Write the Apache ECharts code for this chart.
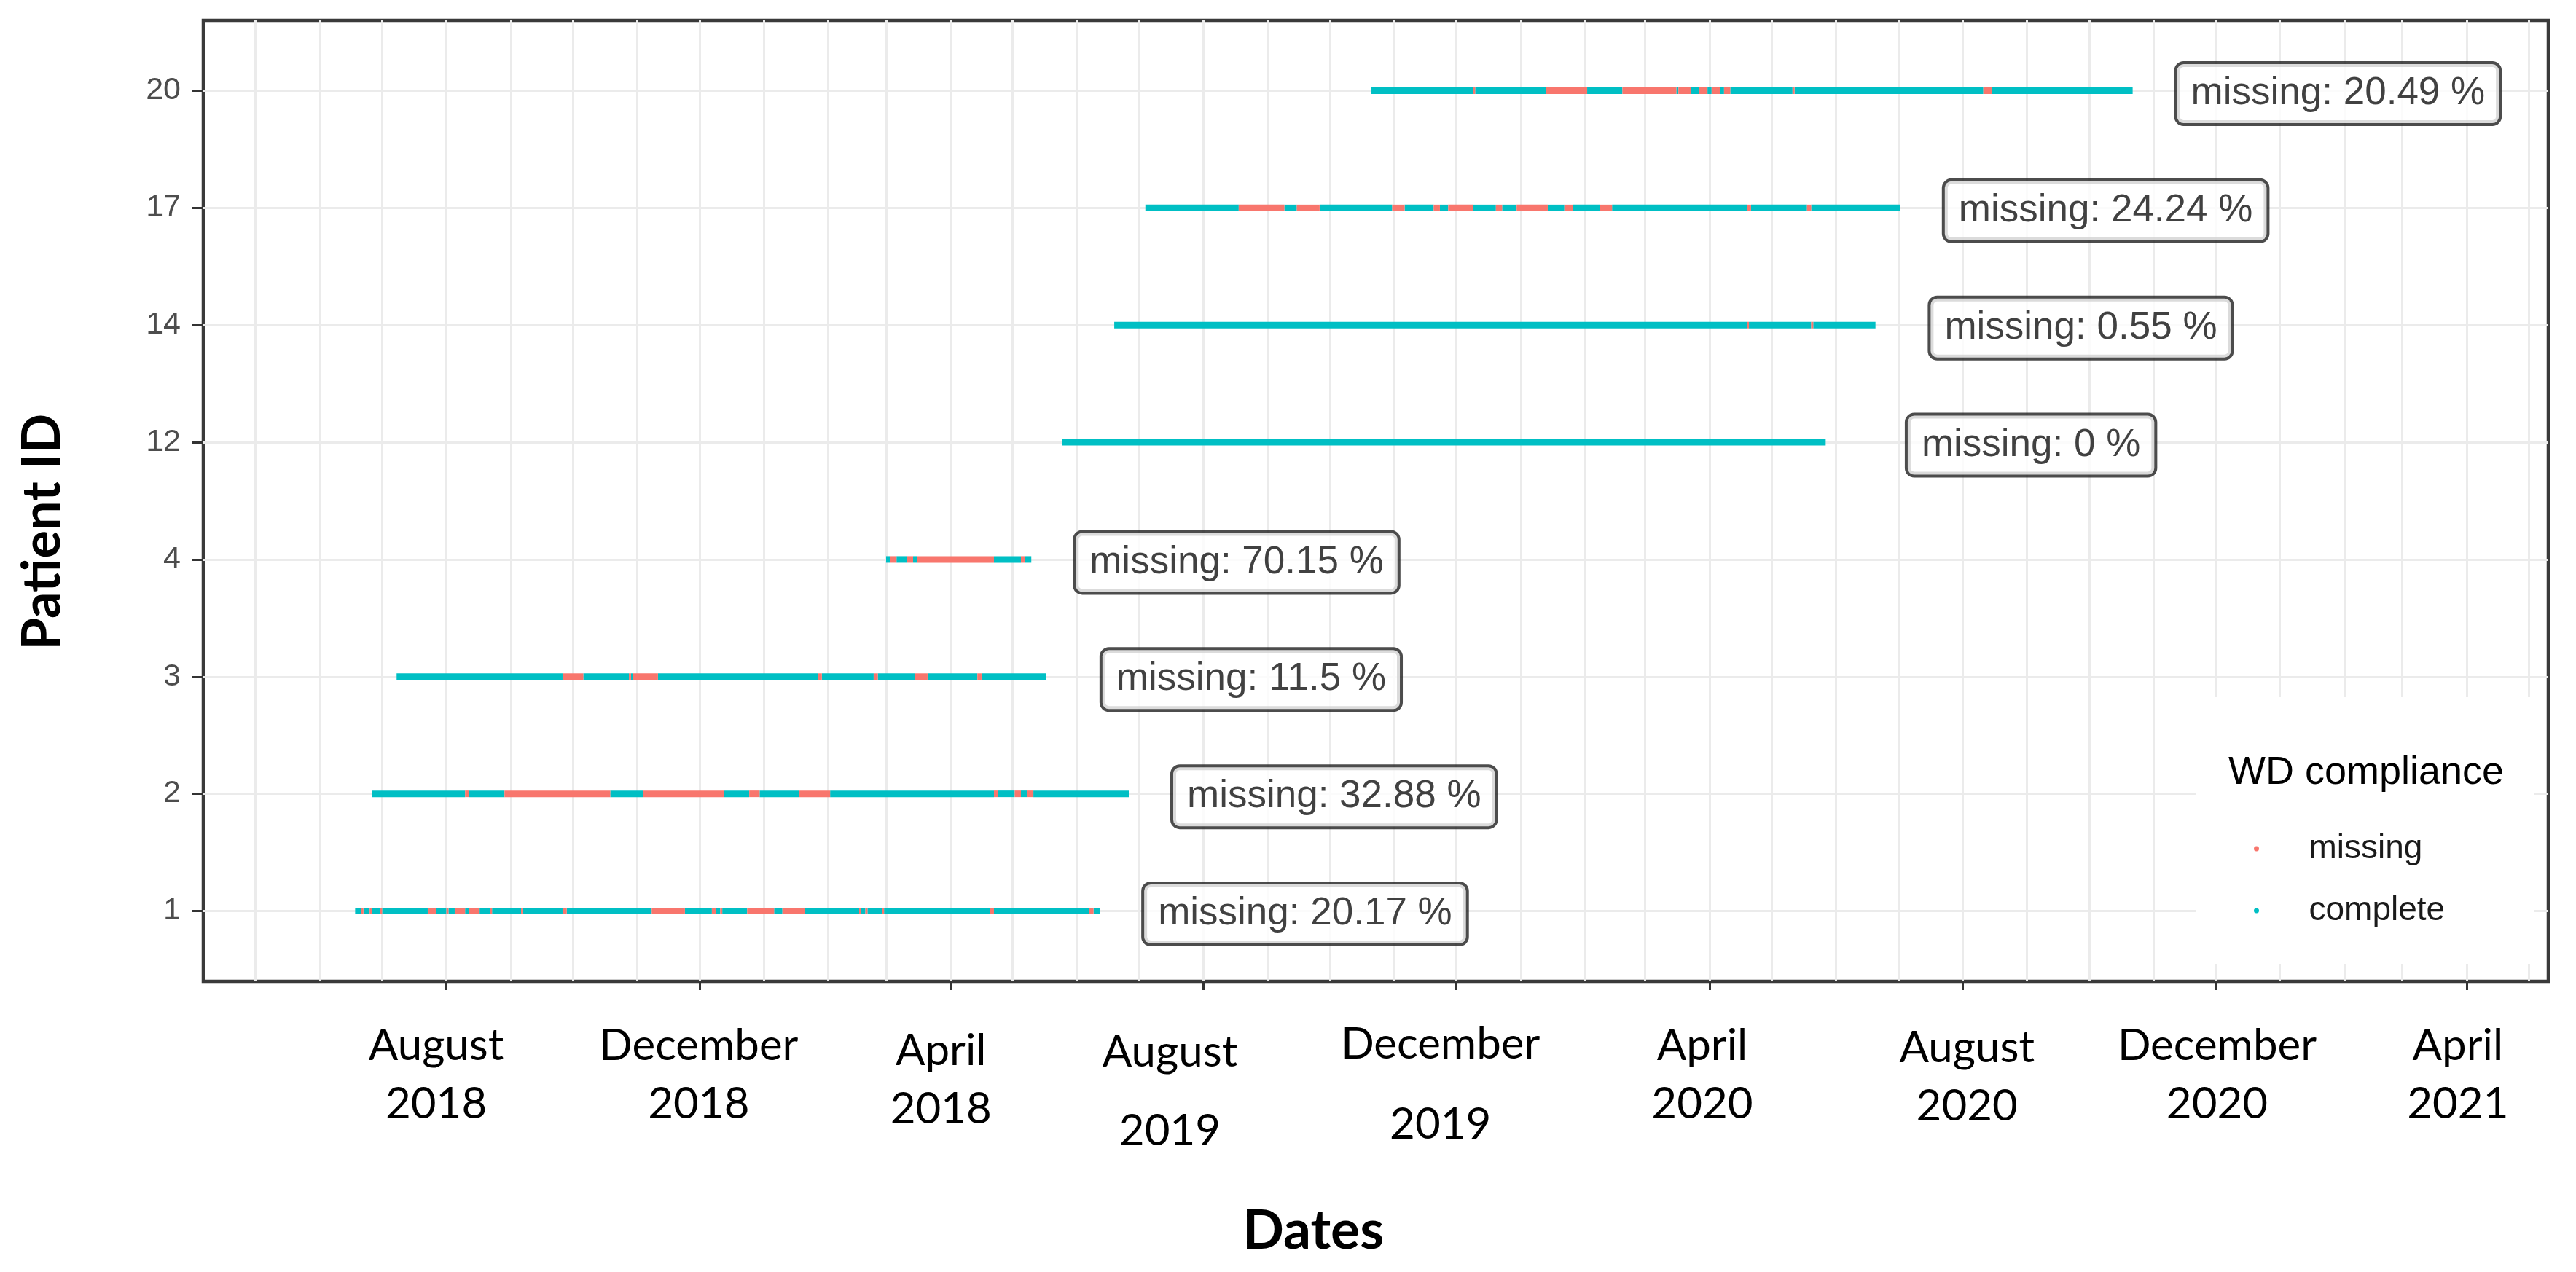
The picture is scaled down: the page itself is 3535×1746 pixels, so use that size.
<!DOCTYPE html>
<html><head><meta charset="utf-8">
<script src="https://cdn.jsdelivr.net/npm/echarts@6/dist/echarts.min.js"></script>
<style>html,body{margin:0;padding:0;background:#fff}#c{width:3535px;height:1746px}</style>
</head><body><div id="c"></div>
<script>
// ---------------- data ----------------
const patientIds = ['1', '2', '3', '4', '12', '14', '17', '20'];
const spanStart = ['2018-06-18', '2018-06-26', '2018-07-08', '2019-03-01', '2019-05-25', '2019-06-19', '2019-07-04', '2019-10-21'];
const spanEnd   = ['2019-06-12', '2019-06-26', '2019-05-17', '2019-05-10', '2020-05-27', '2020-06-20', '2020-07-02', '2020-10-22'];
const missingPct = [20.17, 32.88, 11.5, 70.15, 0, 0.55, 24.24, 20.49];
const missingP1 = [['2018-06-21','2018-06-22'],['2018-06-25','2018-06-26'],['2018-06-30','2018-07-01'],['2018-07-23','2018-07-27'],['2018-08-01','2018-08-02'],['2018-08-05','2018-08-10'],['2018-08-12','2018-08-17'],['2018-08-22','2018-08-23'],['2018-09-06','2018-09-07'],['2018-09-26','2018-09-28'],['2018-11-08','2018-11-24'],['2018-12-07','2018-12-09'],['2018-12-11','2018-12-12'],['2018-12-24','2019-01-06'],['2019-01-10','2019-01-21'],['2019-02-16','2019-02-17'],['2019-02-19','2019-02-20'],['2019-02-27','2019-02-28'],['2019-04-20','2019-04-22'],['2019-06-07','2019-06-09']];
const missingP2 = [['2018-08-10','2018-08-12'],['2018-08-29','2018-10-19'],['2018-11-04','2018-12-13'],['2018-12-25','2018-12-30'],['2019-01-18','2019-02-02'],['2019-04-22','2019-04-24'],['2019-05-02','2019-05-05'],['2019-05-08','2019-05-11']];
const missingP3 = [['2018-09-26','2018-10-06'],['2018-10-28','2018-10-29'],['2018-10-30','2018-11-11'],['2019-01-27','2019-01-29'],['2019-02-23','2019-02-25'],['2019-03-15','2019-03-21'],['2019-04-14','2019-04-16']];
const missingP4 = [['2019-03-03','2019-03-06'],['2019-03-11','2019-03-14'],['2019-03-16','2019-04-22'],['2019-05-05','2019-05-07']];
const missingP12 = [];
const missingP14 = [['2020-04-19','2020-04-20'],['2020-05-20','2020-05-21']];
const missingP17 = [['2019-08-18','2019-09-09'],['2019-09-15','2019-09-26'],['2019-10-31','2019-11-06'],['2019-11-20','2019-11-23'],['2019-11-27','2019-12-09'],['2019-12-20','2019-12-23'],['2019-12-30','2020-01-14'],['2020-01-22','2020-01-26'],['2020-02-08','2020-02-14'],['2020-04-19','2020-04-21'],['2020-05-18','2020-05-20']];
const missingP20 = [['2019-12-09','2019-12-10'],['2020-01-13','2020-02-02'],['2020-02-19','2020-03-16'],['2020-03-17','2020-03-23'],['2020-03-27','2020-03-31'],['2020-04-02','2020-04-06'],['2020-04-08','2020-04-11'],['2020-05-11','2020-05-12'],['2020-08-11','2020-08-15']];
const missingSpans = [missingP1, missingP2, missingP3, missingP4, missingP12, missingP14, missingP17, missingP20];
const tickDates = ['2018-08-01','2018-12-01','2019-04-01','2019-08-01','2019-12-01','2020-04-01','2020-08-01','2020-12-01','2021-04-01'];
const tickLabels = ['August\n2018','December\n2018','April\n2018','August\n2019','December\n2019','April\n2020','August\n2020','December\n2020','April\n2021'];

// ---------------- helpers / layout ----------------
const DAY = 86400000;
function t(s) { const p = s.split('-').map(Number); return new Date(p[0], p[1] - 1, p[2]).getTime(); }
const xMin = t('2018-04-05') + 0.8 * DAY;
const xMax = t('2021-05-10') + 0.4 * DAY;
const labelOffsetDays = 99;
const monthLines = [];
for (let y = 2018, m = 4; ; m++) {
  const d = new Date(y, m, 1).getTime();
  if (d > xMax) break;
  monthLines.push(d);
}
const tickTimes = tickDates.map(t);
// per-label nudges (dx in px, line heights) reproducing the hand-placed labels
const labelNudge = [
  {dx: -14, m: 80, y: 80}, {dx: -1, m: 80, y: 80}, {dx: -13, m: 94, y: 66},
  {dx: -46, m: 98, y: 118}, {dx: -22, m: 76, y: 144}, {dx: -10, m: 80, y: 80},
  {dx: 6, m: 86, y: 74}, {dx: 2, m: 80, y: 80}, {dx: -12, m: 80, y: 80}
];
const rich = {};
labelNudge.forEach((n, i) => {
  const pad = n.dx < 0 ? [0, -2 * n.dx, 0, 0] : [0, 0, 0, 2 * n.dx];
  rich['m' + i] = {fontFamily: 'Lato', fontSize: 60, color: '#000', lineHeight: n.m, padding: pad};
  rich['y' + i] = {fontFamily: 'Lato', fontSize: 60, color: '#000', lineHeight: n.y, padding: pad};
});

const missingData = [], completeData = [], labelData = [];
patientIds.forEach((id, i) => {
  const s = t(spanStart[i]), e = t(spanEnd[i]);
  const miss = missingSpans[i].map(p => [t(p[0]), t(p[1])]).sort((a, b) => a[0] - b[0]);
  let cur = s;
  miss.forEach(p => {
    if (p[0] > cur) completeData.push([i, cur, p[0]]);
    missingData.push([i, p[0], p[1]]);
    cur = Math.max(cur, p[1]);
  });
  if (e > cur) completeData.push([i, cur, e]);
  labelData.push([e + labelOffsetDays * DAY, i, missingPct[i]]);
});

function renderSeg(params, api) {
  const yv = api.value(0);
  const a = api.coord([api.value(1), yv]);
  const b = api.coord([api.value(2), yv]);
  const h = 9;
  return {
    type: 'rect',
    shape: {x: a[0], y: a[1] - h / 2, width: Math.max(b[0] - a[0], 2), height: h},
    style: {fill: api.visual('color')}
  };
}

const chart = echarts.init(document.getElementById('c'), null, {renderer: 'canvas'});
chart.setOption({
  animation: false,
  backgroundColor: '#ffffff',
  grid: {left: 279, right: 38, top: 28, bottom: 399, containLabel: false, outerBoundsMode: 'none',
         show: true, borderColor: '#3a3a3a', borderWidth: 4.5, backgroundColor: 'transparent'},
  xAxis: [
    {type: 'value', min: xMin, max: xMax, position: 'bottom', scale: true,
     axisLine: {show: false}, axisLabel: {show: false},
     axisTick: {show: false, customValues: monthLines},
     splitLine: {show: true, lineStyle: {color: '#ebebeb', width: 3}}},
    {type: 'value', min: xMin, max: xMax, position: 'bottom', scale: true,
     axisLine: {show: false},
     axisTick: {show: true, customValues: tickTimes, length: 12, lineStyle: {color: '#333', width: 3}},
     splitLine: {show: false},
     axisLabel: {show: true, customValues: tickTimes, margin: 49, hideOverlap: false,
       formatter: function (v) {
         let i = 0, best = Infinity;
         tickTimes.forEach((tt, k) => { if (Math.abs(tt - v) < best) { best = Math.abs(tt - v); i = k; } });
         const parts = tickLabels[i].split('\n');
         return '{m' + i + '|' + parts[0] + '}\n{y' + i + '|' + parts[1] + '}';
       },
       rich: rich}}
  ],
  yAxis: {
    type: 'value', min: -0.6, max: 7.6,
    axisLine: {show: false},
    axisTick: {show: true, customValues: [0, 1, 2, 3, 4, 5, 6, 7], length: 16, lineStyle: {color: '#333', width: 3}},
    axisLabel: {show: true, customValues: [0, 1, 2, 3, 4, 5, 6, 7], margin: 31,
      formatter: v => patientIds[Math.round(v)] || '',
      fontFamily: 'Liberation Sans', fontSize: 43, color: '#4d4d4d'},
    splitLine: {show: true, lineStyle: {color: '#ebebeb', width: 3}}
  },
  legend: {
    data: [{name: 'missing', icon: 'circle'}, {name: 'complete', icon: 'circle'}],
    orient: 'vertical', left: 3093, top: 1140, padding: 0,
    itemWidth: 134, itemHeight: 7, itemGap: 35,
    textStyle: {fontFamily: 'Liberation Sans', fontSize: 46, color: '#1a1a1a', lineHeight: 50},
    selectedMode: false
  },
  graphic: [
    {type: 'rect', z: 1, shape: {x: 3014, y: 957, width: 463, height: 366}, style: {fill: '#ffffff'}},
    {type: 'text', z: 5, x: 3058, y: 1061, style: {text: 'WD compliance', fontFamily: 'Liberation Sans', fontSize: 54, fill: '#000', textVerticalAlign: 'middle', textAlign: 'left'}},
    {type: 'text', z: 5, x: 59, y: 730, rotation: Math.PI / 2, style: {text: 'Patient ID', fontFamily: 'Lato', fontWeight: 'bold', fontSize: 72, fill: '#000', textAlign: 'center', textVerticalAlign: 'middle'}},
    {type: 'text', z: 5, x: 1802, y: 1690, style: {text: 'Dates', fontFamily: 'Lato', fontWeight: 'bold', fontSize: 75, fill: '#000', textAlign: 'center', textVerticalAlign: 'middle'}}
  ],
  series: [
    {name: 'complete', type: 'custom', xAxisIndex: 0, renderItem: renderSeg, data: completeData,
     encode: {x: [1, 2], y: 0}, itemStyle: {color: '#00BFC4'}, z: 3},
    {name: 'missing', type: 'custom', xAxisIndex: 0, renderItem: renderSeg, data: missingData,
     encode: {x: [1, 2], y: 0}, itemStyle: {color: '#F8766D'}, z: 4},
    {name: 'labels', type: 'scatter', xAxisIndex: 0, data: labelData, symbolSize: 0, z: 6, silent: true,
     label: {show: true, position: 'inside', offset: [0, 4],
       formatter: p => 'missing: ' + p.value[2] + ' %',
       fontFamily: 'Liberation Sans', fontSize: 53, color: '#111111',
       backgroundColor: '#ffffff', borderColor: '#1f1f1f', borderWidth: 4, borderRadius: 9,
       padding: [14, 19, 14, 19]}}
  ]
});
</script></body></html>
